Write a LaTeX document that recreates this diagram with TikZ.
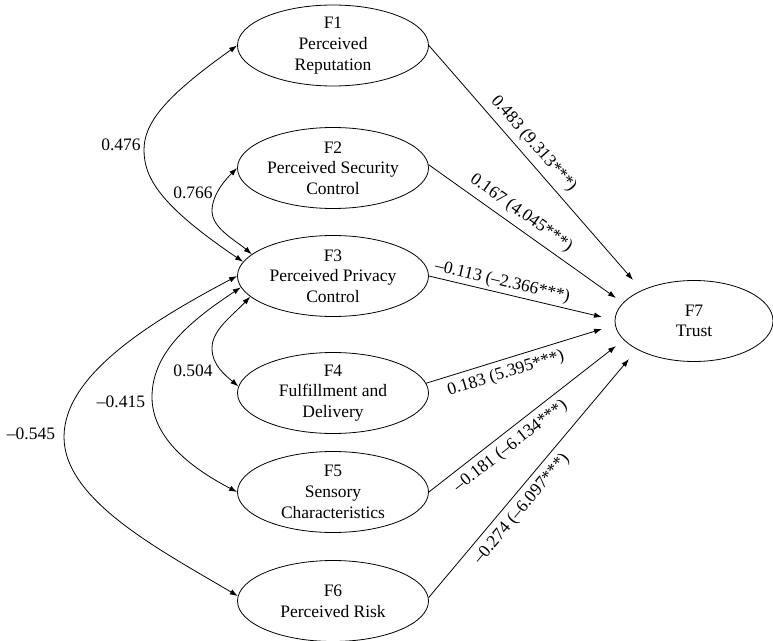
\documentclass[tikz,border=0pt]{standalone}
\usepackage{fontspec}
\setmainfont{Liberation Serif}
\usetikzlibrary{arrows.meta,shapes.geometric,calc}
\begin{document}
\begin{tikzpicture}[x=1bp,y=-1bp,
  every node/.style={font=\fontsize{17.5bp}{20.7bp}\selectfont},
  factor/.style={ellipse, draw, line width=0.8bp, minimum width=191bp, minimum height=81bp, inner sep=0pt},
  trustbox/.style={ellipse, draw, line width=0.8bp, minimum width=158bp, minimum height=81bp, inner sep=0pt},
  ftext/.style={align=center, inner sep=0pt},
  regr/.style={line width=0.8bp, -{Latex[length=8bp,width=5.5bp]}},
  cov/.style={line width=0.8bp, {Latex[length=8bp,width=5.5bp]}-{Latex[length=8bp,width=5.5bp]}},
  coef/.style={inner sep=6bp, sloped},
  corr/.style={inner sep=1bp},
]
\useasboundingbox (0,0) rectangle (773,641);

% factors
\node[factor] (F1) at (333,45.5) {};
\node[ftext] (F1t) at (F1) {F1\\Perceived\\Reputation};
\node[factor] (F2) at (333,168) {};
\node[ftext] (F2t) at (F2) {F2\\Perceived Security\\Control};
\node[factor] (F3) at (333,276) {};
\node[ftext] (F3t) at (F3) {F3\\Perceived Privacy\\Control};
\node[factor] (F4) at (333,393) {};
\node[ftext] (F4t) at (F4) {F4\\Fulfillment and\\Delivery};
\node[factor] (F5) at (333,492) {};
\node[ftext] (F5t) at (F5) {F5\\Sensory\\Characteristics};
\node[factor] (F6) at (333,601) {};
\node[ftext] (F6t) at (F6) {F6\\Perceived Risk};
\node[trustbox] (F7) at (694,321) {};
\node[ftext] (F7t) at (F7) {F7\\Trust};

% arrow ends near F7
\coordinate (t1) at ($(F7.center)+(-61,-41)$);
\coordinate (t2) at ($(F7.center)+(-78,-23)$);
\coordinate (t3) at ($(F7.center)+(-92,-4)$);
\coordinate (t4) at ($(F7.center)+(-92,8)$);
\coordinate (t5) at ($(F7.center)+(-78,25)$);
\coordinate (t6) at ($(F7.center)+(-65,38)$);

% regression paths
\draw[regr] (F1.east) -- node[coef, above, pos=0.46] {0.483 (9.313***)} (t1);
\draw[regr] (F2.2) -- node[coef, above, pos=0.45] {0.167 (4.045***)} (t2);
\draw[regr] (F3.east) -- node[coef, above, pos=0.41, inner sep=2.5bp] {–0.113 (–2.366***)} (t3);
\draw[regr] (F4.6) -- node[coef, below, pos=0.43] {0.183 (5.395***)} (t4);
\draw[regr] (F5.east) -- node[coef, below, pos=0.39] {–0.181 (–6.134***)} (t5);
\draw[regr] (F6.2) -- node[coef, below, pos=0.41] {–0.274 (–6.097***)} (t6);

% covariances
\draw[cov] (F1.west) .. controls (163,98) and (144,124) .. (144,150)
           .. controls (144,177) and (159,205) .. (F3.171);
\draw[cov] (F2.west) .. controls (225,180) and (212,195) .. (212,211)
           .. controls (212,228) and (235,240) .. (F3.165);
\draw[cov] (F3.194) .. controls (232,316) and (212,330) .. (212,348)
           .. controls (212,365) and (225,375) .. (F4.176);
\draw[cov] (F3.187) .. controls (195,318) and (152,350) .. (152,397)
           .. controls (152,440) and (195,470) .. (F5.west);
\draw[cov] (F3.west) .. controls (150,322) and (64,375) .. (64,437)
           .. controls (64,500) and (160,550) .. (F6.177);

% correlation labels
\node[corr] (c13) at (121,145) {0.476};
\node[corr] (c23) at (193,193) {0.766};
\node[corr] (c34) at (193,371) {0.504};
\node[corr] (c35) at (121,402) {–0.415};
\node[corr] (c36) at (31,434) {–0.545};
\end{tikzpicture}
\end{document}
